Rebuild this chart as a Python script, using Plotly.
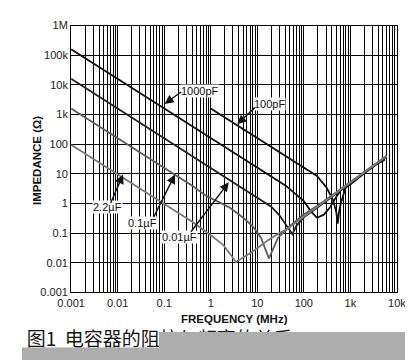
import plotly.graph_objects as go

# ---------------- data (frequency in MHz, impedance in ohms) ----------------
freq_2u2 = [0.001, 0.01, 0.1, 0.4, 1.0, 1.8, 2.6, 3.45, 5, 7.4, 12, 18.6, 30, 47, 100, 200, 500, 1000, 2000, 4000, 6000]
imp_2u2 = [95, 9.5, 0.95, 0.24, 0.085, 0.042, 0.02, 0.0105, 0.015, 0.022, 0.038, 0.063, 0.1, 0.145, 0.36, 0.8, 2.3, 5.1, 11.5, 26, 40]

freq_0u1 = [0.001, 0.01, 0.1, 0.4, 0.8, 2.5, 5, 8, 12, 17.8, 28, 50, 95, 200, 500, 1000, 2000, 4000, 6000]
imp_0u1 = [1600, 160, 16, 4.0, 1.8, 0.75, 0.33, 0.17, 0.07, 0.014, 0.07, 0.17, 0.4, 0.85, 2.4, 5.3, 12, 27, 41]

freq_0u01 = [0.001, 0.01, 0.1, 1, 10, 20, 30, 40, 50, 57, 70, 100, 200, 500, 1000, 2000, 4000, 5500]
imp_0u01 = [16000, 1600, 160, 16, 1.6, 0.78, 0.4, 0.2, 0.12, 0.092, 0.18, 0.34, 0.75, 2.2, 4.8, 11, 24, 33]

freq_1000p = [0.001, 0.01, 0.1, 1, 10, 41, 100, 145, 192, 270, 370, 500, 650, 1000, 2000, 4000, 5500]
imp_1000p = [160000, 16000, 1600, 160, 16, 4.0, 1.2, 0.52, 0.33, 0.42, 0.76, 1.7, 3.0, 4.4, 10.5, 23, 30]

freq_100p = [1, 10, 100, 192, 306, 425, 500, 536, 570, 617, 777, 1000, 2000, 4000, 6000]
imp_100p = [1600, 160, 16, 8.5, 3.5, 1.3, 0.5, 0.21, 0.5, 0.94, 3.2, 4.9, 11, 25, 37]

curve_names = ["1000pF", "100pF", "0.01µF", "0.1µF", "2.2µF"]

x_decades = [0.001, 0.01, 0.1, 1, 10, 100, 1000, 10000]
x_decade_labels = ["0.001", "0.01", "0.1", "1", "10", "100", "1k", "10k"]
y_decades = [0.001, 0.01, 0.1, 1, 10, 100, 1000, 10000, 100000, 1000000]
y_decade_labels = ["0.001", "0.01", "0.1", "1", "10", "100", "1k", "10k", "100k", "1M"]

caption = "图1\u00a0\u00a0电容器的阻抗与频率的关系"

# ---------------- figure ----------------
W, H = 413, 360
fig = go.Figure()

series = [
    (freq_1000p, imp_1000p, "#111111", 1.8),
    (freq_100p, imp_100p, "#111111", 1.8),
    (freq_0u01, imp_0u01, "#222222", 1.8),
    (freq_0u1, imp_0u1, "#5c5c5c", 1.8),
    (freq_2u2, imp_2u2, "#7a7a7a", 1.8),
]
for (fx, zy, col, lw), name in zip(series, curve_names):
    fig.add_trace(go.Scatter(x=fx, y=zy, mode="lines", name=name,
                             line=dict(color=col, width=lw),
                             showlegend=False, hoverinfo="skip"))

# caption drawn as text on a full-figure pixel overlay so the grey band can cover it
fig.add_trace(go.Scatter(x=[5], y=[339], mode="text", text=[caption],
                         textposition="middle right",
                         textfont=dict(family="Noto Sans CJK SC", size=19, color="#151515"),
                         xaxis="x2", yaxis="y2", showlegend=False, hoverinfo="skip"))

# tick positions: every 1..9 multiple on x, decades on y
x_tickvals, x_ticktext = [], []
for d, lab in zip(x_decades, x_decade_labels):
    x_tickvals.append(d)
    x_ticktext.append(lab)
    if d < x_decades[-1]:
        for k in range(2, 10):
            x_tickvals.append(d * k)
            x_ticktext.append("")

tickfont = dict(family="Liberation Sans, Arial, sans-serif", size=11, color="#1a1a1a")

fig.update_layout(
    width=W, height=H,
    margin=dict(l=0, r=0, t=0, b=0),
    paper_bgcolor="white", plot_bgcolor="rgba(0,0,0,0)",
    xaxis=dict(type="log", range=[-3, 4], domain=[52 / W, 397 / W],
               tickvals=x_tickvals, ticktext=x_ticktext, tickfont=tickfont,
               showgrid=True, gridcolor="#000000", gridwidth=1,
               showline=True, linecolor="#000000", linewidth=1, mirror=True,
               ticks="", zeroline=False, anchor="y"),
    yaxis=dict(type="log", range=[-3, 6], domain=[1 - 288 / H, 1 - 12 / H],
               tickvals=y_decades, ticktext=y_decade_labels, tickfont=tickfont,
               showgrid=True, gridcolor="#000000", gridwidth=1,
               showline=True, linecolor="#000000", linewidth=1, mirror=True,
               ticks="", zeroline=False, anchor="x"),
    xaxis2=dict(range=[0, W], domain=[0, 1], visible=False, fixedrange=True, anchor="y2"),
    yaxis2=dict(range=[H, 0], domain=[0, 1], visible=False, fixedrange=True, anchor="x2"),
)

# grey dotted band that hides the lower part of the caption
band = "#adadad"
fig.add_shape(type="rect", xref="x2", yref="y2", x0=145, x1=W, y0=329, y1=H,
              fillcolor=band, line=dict(width=0), layer="above")
fig.add_shape(type="rect", xref="x2", yref="y2", x0=0, x1=W, y0=345, y1=H,
              fillcolor=band, line=dict(width=0), layer="above")

def px(xp):
    return xp / W

def py(yp):
    return 1 - yp / H

titlefont = dict(family="Liberation Sans, Arial, sans-serif", size=11.5, color="#111111")
fig.add_annotation(text="<b>FREQUENCY (MHz)</b>", x=px(225), y=py(316), xref="paper", yref="paper",
                   showarrow=False, font=titlefont, xanchor="center", yanchor="middle")
fig.add_annotation(text="<b>IMPEDANCE (Ω)</b>", x=px(16), y=py(152), xref="paper", yref="paper",
                   showarrow=False, font=titlefont, textangle=-90, xanchor="center", yanchor="middle")

# curve labels (white boxes) and arrows
labelfont = dict(family="Liberation Sans, Arial, sans-serif", size=11, color="#111111")
labels = [
    ("1000pF", 188, 80),
    ("100pF", 262, 93),
    ("2.2µF", 91, 200),
    ("0.1µF", 128, 216),
    ("0.01µF", 167, 231),
]
for txt, lx, ly in labels:
    fig.add_annotation(text=txt, x=px(lx), y=py(ly), xref="paper", yref="paper",
                       showarrow=False, font=labelfont, bgcolor="white",
                       xanchor="center", yanchor="middle", borderpad=0)

arrows = [
    ((169, 80), (151, 93)),
    ((247, 96), (228, 114)),
    ((94, 196), (107, 166)),
    ((140, 210), (162, 166)),
    ((180, 225), (219, 174)),
]
for (tx, ty), (hx, hy) in arrows:
    fig.add_annotation(text="", x=px(hx), y=py(hy), xref="paper", yref="paper",
                       ax=tx - hx, ay=ty - hy, axref="pixel", ayref="pixel",
                       showarrow=True, arrowhead=2, arrowsize=1.3, arrowwidth=1.4,
                       arrowcolor="#111111", standoff=0, startstandoff=0)

fig.write_html("out.html")
